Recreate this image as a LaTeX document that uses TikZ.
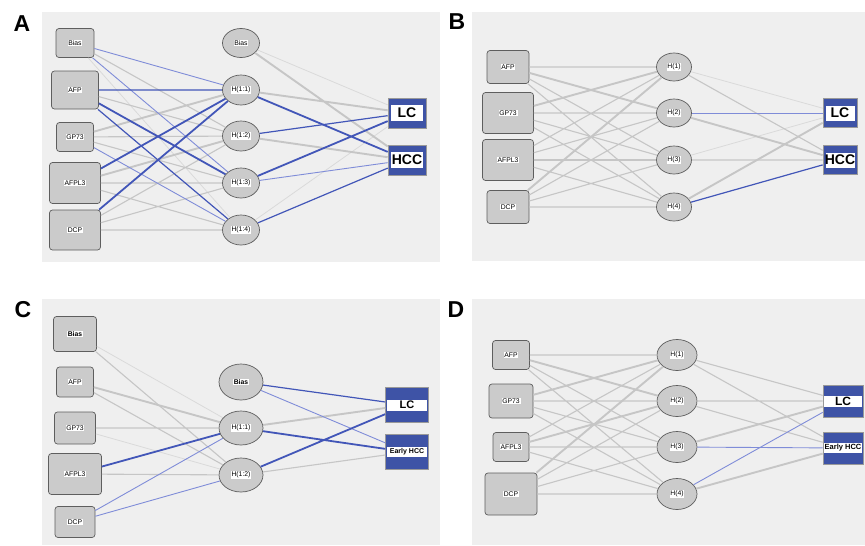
\documentclass[tikz,border=0pt]{standalone}
\usepackage{fontspec}
\setmainfont{Liberation Sans}
\setsansfont{Liberation Sans}
\usepackage{xcolor}
\usetikzlibrary{shapes.geometric, positioning}

\definecolor{panelbg}{HTML}{EFEFEF}
\definecolor{nodefill}{HTML}{CBCBCB}
\definecolor{nodeline}{HTML}{5E5E5E}
\definecolor{linkblue}{HTML}{4256B8}
\definecolor{paleblue}{HTML}{7F8CD8}
\definecolor{linkgray}{HTML}{C6C6C6}
\definecolor{outblue}{HTML}{3E53A6}

% white tag behind the small labels
\newcommand{\wlbl}[1]{{\setlength{\fboxsep}{0.8pt}\colorbox{white}{#1}}}

\begin{document}
\begin{tikzpicture}[
    x=1pt, y=-1pt,
    bandh/.store in=\outbandh, bandh=7pt,
    bandx/.store in=\outbandx, bandx=3pt,
    inbox/.style={draw=nodeline, fill=nodefill, rounded corners=3pt, line width=0.7pt,
                  inner sep=0pt, font=\fontsize{6.8}{8}\selectfont},
    hidnode/.style={ellipse, draw=nodeline, fill=nodefill, line width=0.7pt,
                    inner sep=0pt, font=\fontsize{6.8}{8}\selectfont},
    outbox/.style={draw=gray!80, fill=outblue, line width=0.6pt, inner sep=0pt,
                   font=\bfseries,
                   path picture={\fill[white]
                     ([xshift=\outbandx,yshift=\outbandh]path picture bounding box.west) rectangle
                     ([xshift=-\outbandx,yshift=-\outbandh]path picture bounding box.east);}},
    panellbl/.style={font=\fontsize{23}{24}\selectfont\bfseries, inner sep=0pt},
    grayfaint/.style={draw=linkgray!65, line width=0.8pt},
    graylink/.style={draw=linkgray, line width=1.1pt},
    grayheavy/.style={draw=linkgray, line width=1.9pt},
    bluefaint/.style={draw=paleblue, line width=0.9pt},
    bluelink/.style={draw=linkblue, line width=1.2pt},
    blueheavy/.style={draw=linkblue, line width=1.8pt},
]
\useasboundingbox (0,0) rectangle (865,546);

% panel backgrounds
\fill[panelbg] (42,12) rectangle (440,262);
\fill[panelbg] (472,12) rectangle (865,261);
\fill[panelbg] (42,299) rectangle (440,545);
\fill[panelbg] (472,299) rectangle (865,545);

\node[panellbl] (labA) at (22,24) {A};
\node[panellbl] (labB) at (457,22) {B};
\node[panellbl] (labC) at (23,310) {C};
\node[panellbl] (labD) at (456,310) {D};

%%% panel A
\node[inbox, minimum width=38pt, minimum height=29pt] (aBias) at (75,43) {\wlbl{Bias}};
\node[inbox, minimum width=47pt, minimum height=38pt] (aAFP) at (75,90) {\wlbl{AFP}};
\node[inbox, minimum width=37pt, minimum height=29pt] (aGP) at (75,137) {\wlbl{GP73}};
\node[inbox, minimum width=51pt, minimum height=41pt] (aAFPL) at (75,183) {\wlbl{AFPL3}};
\node[inbox, minimum width=51pt, minimum height=40pt] (aDCP) at (75,230) {\wlbl{DCP}};

\node[hidnode, minimum width=37pt, minimum height=29pt] (ahB) at (241,43) {\wlbl{Bias}};
\node[hidnode, minimum width=37pt, minimum height=30pt] (ah1) at (241,90) {\wlbl{H(1:1)}};
\node[hidnode, minimum width=37pt, minimum height=30pt] (ah2) at (241,136) {\wlbl{H(1:2)}};
\node[hidnode, minimum width=37pt, minimum height=30pt] (ah3) at (241,183) {\wlbl{H(1:3)}};
\node[hidnode, minimum width=37pt, minimum height=30pt] (ah4) at (241,230) {\wlbl{H(1:4)}};

\node[outbox, bandh=8pt, minimum width=38pt, minimum height=30pt,
      font=\fontsize{14}{15}\selectfont\bfseries] (aLC) at (407,113) {LC};
\node[outbox, bandh=8pt, minimum width=38pt, minimum height=30pt,
      font=\fontsize{14}{15}\selectfont\bfseries] (aHCC) at (407,160) {HCC};

\draw[grayfaint] (aBias) -- (ah4) (ahB) -- (aLC) (ah4) -- (aLC);
\draw[graylink] (aBias) -- (ah2) (aAFP) -- (ah2) (aGP) -- (ah2) (aGP) -- (ah3)
    (aAFPL) -- (ah3) (aAFPL) -- (ah4) (aDCP) -- (ah2) (aDCP) -- (ah3) (aDCP) -- (ah4);
\draw[grayheavy] (aGP) -- (ah1) (aAFPL) -- (ah2) (ahB) -- (aHCC) (ah1) -- (aLC) (ah2) -- (aHCC);
\draw[bluefaint] (aBias) -- (ah1) (aBias) -- (ah3) (aGP) -- (ah4) (ah3) -- (aHCC);
\draw[bluelink] (aAFP) -- (ah1) (aAFP) -- (ah4) (ah2) -- (aLC) (ah4) -- (aHCC);
\draw[blueheavy] (aAFP) -- (ah3) (aAFPL) -- (ah1) (aDCP) -- (ah1) (ah1) -- (aHCC) (ah3) -- (aLC);

%%% panel B
\node[inbox, minimum width=42pt, minimum height=33pt] (bAFP) at (508,67) {\wlbl{AFP}};
\node[inbox, minimum width=51pt, minimum height=41pt] (bGP) at (508,113) {\wlbl{GP73}};
\node[inbox, minimum width=51pt, minimum height=41pt] (bAFPL) at (508,160) {\wlbl{AFPL3}};
\node[inbox, minimum width=42pt, minimum height=33pt] (bDCP) at (508,207) {\wlbl{DCP}};

\node[hidnode, minimum width=35pt, minimum height=28pt] (bh1) at (674,67) {\wlbl{H(1)}};
\node[hidnode, minimum width=35pt, minimum height=28pt] (bh2) at (674,113) {\wlbl{H(2)}};
\node[hidnode, minimum width=35pt, minimum height=28pt] (bh3) at (674,160) {\wlbl{H(3)}};
\node[hidnode, minimum width=35pt, minimum height=28pt] (bh4) at (674,207) {\wlbl{H(4)}};

\node[outbox, bandh=7.5pt, bandx=2.5pt, minimum width=34pt, minimum height=29pt,
      font=\fontsize{14}{15}\selectfont\bfseries] (bLC) at (840,113) {LC};
\node[outbox, bandh=7.5pt, bandx=2.5pt, minimum width=34pt, minimum height=29pt,
      font=\fontsize{14}{15}\selectfont\bfseries] (bHCC) at (840,160) {HCC};

\draw[grayfaint] (bh1) -- (bLC) (bh3) -- (bLC);
\draw[graylink] (bAFP) -- (bh1) (bAFP) -- (bh3) (bAFP) -- (bh4)
    (bGP) -- (bh2) (bGP) -- (bh3) (bGP) -- (bh4)
    (bAFPL) -- (bh1) (bAFPL) -- (bh2) (bAFPL) -- (bh4)
    (bDCP) -- (bh2) (bDCP) -- (bh3) (bDCP) -- (bh4)
    (bh1) -- (bHCC) (bh3) -- (bHCC);
\draw[grayheavy] (bAFP) -- (bh2) (bGP) -- (bh1) (bAFPL) -- (bh3) (bDCP) -- (bh1)
    (bh2) -- (bHCC) (bh4) -- (bLC);
\draw[bluefaint] (bh2) -- (bLC);
\draw[bluelink] (bh4) -- (bHCC);

%%% panel C
\node[inbox, minimum width=43pt, minimum height=35pt] (cBias) at (75,334) {\wlbl{\bfseries Bias}};
\node[inbox, minimum width=37pt, minimum height=30pt] (cAFP) at (75,382) {\wlbl{AFP}};
\node[inbox, minimum width=41pt, minimum height=32pt] (cGP) at (75,428) {\wlbl{GP73}};
\node[inbox, minimum width=53pt, minimum height=41pt] (cAFPL) at (75,474) {\wlbl{AFPL3}};
\node[inbox, minimum width=40pt, minimum height=31pt] (cDCP) at (75,522) {\wlbl{DCP}};

\node[hidnode, minimum width=44pt, minimum height=36pt] (chB) at (241,382) {\wlbl{\bfseries Bias}};
\node[hidnode, minimum width=44pt, minimum height=34pt] (ch1) at (241,428) {\wlbl{H(1:1)}};
\node[hidnode, minimum width=44pt, minimum height=34pt] (ch2) at (241,475) {\wlbl{H(1:2)}};

\node[outbox, bandh=5.5pt, bandx=1.5pt, minimum width=43pt, minimum height=35pt,
      font=\fontsize{11}{12}\selectfont\bfseries] (cLC) at (407,405) {LC};
\node[outbox, bandh=5pt, bandx=1.5pt, minimum width=43pt, minimum height=35pt,
      font=\fontsize{7}{8}\selectfont\bfseries] (cEHCC) at (407,452) {Early HCC};

\draw[grayfaint] (cBias) -- (ch1) (cGP) -- (ch2);
\draw[graylink] (cBias) -- (ch2) (cAFP) -- (ch2) (cGP) -- (ch1) (cAFPL) -- (ch2) (ch2) -- (cEHCC);
\draw[grayheavy] (cAFP) -- (ch1) (ch1) -- (cLC);
\draw[bluefaint] (cDCP) -- (ch1) (cDCP) -- (ch2) (chB) -- (cEHCC);
\draw[bluelink] (chB) -- (cLC);
\draw[blueheavy] (cAFPL) -- (ch1) (ch1) -- (cEHCC) (ch2) -- (cLC);

%%% panel D
\node[inbox, minimum width=37pt, minimum height=29pt] (dAFP) at (511,355) {\wlbl{AFP}};
\node[inbox, minimum width=44pt, minimum height=34pt] (dGP) at (511,401) {\wlbl{GP73}};
\node[inbox, minimum width=36pt, minimum height=29pt] (dAFPL) at (511,447) {\wlbl{AFPL3}};
\node[inbox, minimum width=52pt, minimum height=42pt] (dDCP) at (511,494) {\wlbl{DCP}};

\node[hidnode, minimum width=40pt, minimum height=31pt] (dh1) at (677,355) {\wlbl{H(1)}};
\node[hidnode, minimum width=40pt, minimum height=31pt] (dh2) at (677,401) {\wlbl{H(2)}};
\node[hidnode, minimum width=40pt, minimum height=31pt] (dh3) at (677,447) {\wlbl{H(3)}};
\node[hidnode, minimum width=40pt, minimum height=31pt] (dh4) at (677,494) {\wlbl{H(4)}};

\node[outbox, bandh=5.5pt, bandx=1pt, minimum width=40pt, minimum height=32pt,
      font=\fontsize{12}{13}\selectfont\bfseries] (dLC) at (843,401) {LC};
\node[outbox, bandh=5pt, bandx=1pt, minimum width=40pt, minimum height=32pt,
      font=\fontsize{7.5}{8}\selectfont\bfseries] (dEHCC) at (843,448) {Early HCC};

\draw[graylink] (dAFP) -- (dh1) (dAFP) -- (dh3) (dAFP) -- (dh4)
    (dGP) -- (dh2) (dGP) -- (dh3) (dGP) -- (dh4)
    (dAFPL) -- (dh1) (dAFPL) -- (dh3) (dAFPL) -- (dh4)
    (dDCP) -- (dh2) (dDCP) -- (dh3) (dDCP) -- (dh4)
    (dh1) -- (dLC) (dh1) -- (dEHCC) (dh2) -- (dLC) (dh2) -- (dEHCC);
\draw[grayheavy] (dAFP) -- (dh2) (dGP) -- (dh1) (dAFPL) -- (dh2) (dDCP) -- (dh1)
    (dh3) -- (dLC) (dh4) -- (dEHCC);
\draw[bluefaint] (dh3) -- (dEHCC) (dh4) -- (dLC);
\end{tikzpicture}
\end{document}
